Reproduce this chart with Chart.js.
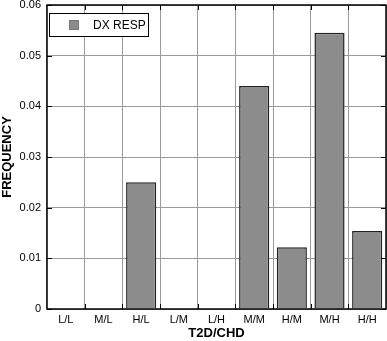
<!DOCTYPE html>
<html>
<head>
<meta charset="utf-8">
<script src="https://cdn.jsdelivr.net/npm/chart.js@4/dist/chart.umd.min.js"></script>
<style>
html, body { margin: 0; padding: 0; background: #fff; }
#wrap { width: 387px; height: 341px; }
</style>
</head>
<body>
<div id="wrap"><canvas id="chart" width="387" height="341"></canvas></div>
<script>
const categories = ['L/L', 'M/L', 'H/L', 'L/M', 'L/H', 'M/M', 'H/M', 'M/H', 'H/H'];
const dxResp = [0, 0, 0.025, 0, 0, 0.044, 0.0122, 0.0545, 0.0154];
const yTicks = [0, 0.01, 0.02, 0.03, 0.04, 0.05, 0.06];

const FONT = 'Liberation Sans, Arial, Helvetica, sans-serif';

// frame, inward tick marks and the legend box inside the plot
const framePlugin = {
  id: 'frame',
  afterDatasetsDraw(chart) {
    const { ctx, chartArea: a, scales } = chart;
    ctx.save();
    ctx.strokeStyle = '#000';
    ctx.lineWidth = 1;
    ctx.beginPath();
    yTicks.forEach(v => {
      const y = Math.round(scales.y.getPixelForValue(v)) + 0.5;
      ctx.moveTo(a.left, y); ctx.lineTo(a.left + 5, y);
      ctx.moveTo(a.right, y); ctx.lineTo(a.right - 5, y);
    });
    const xs = scales.x;
    for (let i = 1; i < categories.length; i++) {
      const x = Math.round((xs.getPixelForValue(i - 1) + xs.getPixelForValue(i)) / 2) + 0.5;
      ctx.moveTo(x, a.top); ctx.lineTo(x, a.top + 5);
      ctx.moveTo(x, a.bottom); ctx.lineTo(x, a.bottom - 5);
    }
    ctx.stroke();
    ctx.lineWidth = 1.5;
    ctx.strokeRect(a.left, a.top, a.right - a.left, a.bottom - a.top);

    // legend
    const lx = a.left + 2, ly = a.top + 8, lw = 99, lh = 23;
    ctx.fillStyle = '#fff';
    ctx.fillRect(lx, ly, lw, lh);
    ctx.lineWidth = 1;
    ctx.strokeStyle = '#000';
    ctx.strokeRect(lx + 0.5, ly + 0.5, lw, lh);
    ctx.fillStyle = '#8c8c8c';
    ctx.fillRect(lx + 20, ly + 7, 10, 10);
    ctx.strokeStyle = '#777';
    ctx.strokeRect(lx + 20.5, ly + 7.5, 9, 9);
    ctx.fillStyle = '#000';
    ctx.font = '12px ' + FONT;
    ctx.textBaseline = 'middle';
    ctx.fillText(chart.data.datasets[0].label, lx + 44, ly + 12.5);
    ctx.restore();
  }
};

new Chart(document.getElementById('chart'), {
  type: 'bar',
  data: {
    labels: categories,
    datasets: [{
      label: 'DX RESP',
      data: dxResp,
      backgroundColor: '#8c8c8c',
      borderColor: '#222',
      borderWidth: 1.5,
      borderSkipped: 'bottom',
      barPercentage: 0.8,
      categoryPercentage: 1
    }]
  },
  options: {
    responsive: false,
    animation: false,
    layout: { padding: { top: 0, right: 1, left: 0, bottom: 0 } },
    plugins: {
      legend: { display: false },
      tooltip: { enabled: false }
    },
    scales: {
      x: {
        offset: true,
        afterFit(scale) { scale.height = 32; },
        grid: { offset: true, color: '#9a9a9a', lineWidth: 1, drawTicks: false },
        border: { display: false },
        ticks: { color: '#000', font: { family: FONT, size: 11 }, padding: 4, maxRotation: 0 },
        title: { display: true, text: 'T2D/CHD', color: '#000', font: { family: FONT, size: 13, weight: 'bold' }, padding: { top: 0, bottom: 0 } }
      },
      y: {
        min: 0,
        max: 0.06,
        afterFit(scale) {
          scale.width = 47;
          scale.paddingTop = 5;
          scale.paddingBottom = 0;
        },
        afterBuildTicks(scale) { scale.ticks = yTicks.map(v => ({ value: v })); },
        grid: { color: '#9a9a9a', lineWidth: 1, drawTicks: false },
        border: { display: false },
        ticks: {
          color: '#000',
          font: { family: FONT, size: 11 },
          padding: 6,
          callback: v => (v === 0 ? '0' : v.toFixed(2))
        },
        title: { display: true, text: 'FREQUENCY', color: '#000', font: { family: FONT, size: 13, weight: 'bold' }, padding: { top: 0, bottom: 0 } }
      }
    }
  },
  plugins: [framePlugin]
});
</script>
</body>
</html>
